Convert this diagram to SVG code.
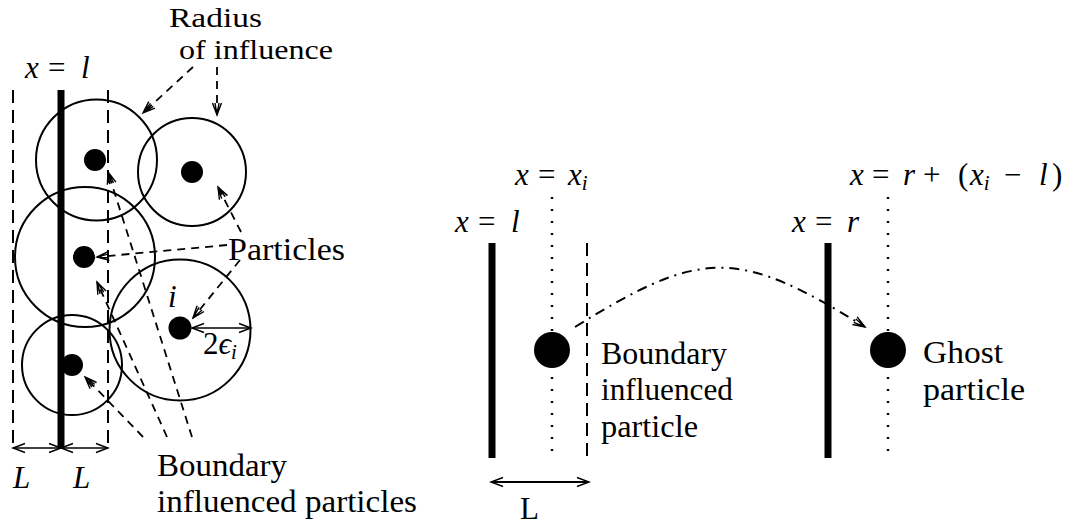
<svg xmlns="http://www.w3.org/2000/svg" width="1076" height="529" viewBox="0 0 1076 529">
<style>
  text { font-family: "Liberation Serif", "Times New Roman", serif; font-size: 31px; fill: #000; }
  .it { font-style: italic; }
  .sub { font-style: italic; font-size: 21px; }
  .sm { font-size: 27px; }
  .circ { fill: none; stroke: #000; stroke-width: 2; }
  .dot { fill: #000; }
  .wall { stroke: #000; stroke-width: 7; fill: none; }
  .vdash { stroke: #000; stroke-width: 2; fill: none; stroke-dasharray: 13 7; }
  .vdot { stroke: #000; stroke-width: 2.4; fill: none; stroke-dasharray: 2 10; }
  .ptr { stroke: #000; stroke-width: 1.8; fill: none; stroke-dasharray: 8 6; marker-end: url(#ptr); }
  .dim { stroke: #000; stroke-width: 1.3; fill: none; marker-start: url(#dim); marker-end: url(#dim); }
  .dimb { stroke: #000; stroke-width: 2; fill: none; marker-start: url(#dim); marker-end: url(#dim); }
  .dashdot { stroke: #000; stroke-width: 2; fill: none; stroke-dasharray: 10 6 2 6; marker-end: url(#ptr); }
  .mk { stroke: #000; stroke-width: 1.4; fill: none; stroke-dasharray: none; }
</style>
<defs>
  <marker id="ptr" markerUnits="userSpaceOnUse" viewBox="-14 -7 16 14" markerWidth="16" markerHeight="14" refX="0" refY="0" orient="auto-start-reverse">
    <path class="mk" d="M-12,-4.5 L0,0 L-12,4.5 M-12,-2 L0,0 L-12,2"/>
  </marker>
  <marker id="dim" markerUnits="userSpaceOnUse" viewBox="-14 -7 16 14" markerWidth="16" markerHeight="14" refX="0" refY="0" orient="auto-start-reverse">
    <path class="mk" d="M-12,-4.5 L0,0 L-12,4.5"/>
  </marker>
</defs>

<!-- LEFT FIGURE -->
<g id="left-boundary">
  <line class="vdash" x1="13" y1="90" x2="13" y2="448"/>
  <line class="wall" x1="61" y1="90" x2="61" y2="449"/>
  <line class="vdash" x1="108" y1="90" x2="108" y2="448"/>
  <text x="25" y="78"><tspan class="it">x</tspan><tspan x="48">=</tspan><tspan class="it" x="81">l</tspan></text>
</g>
<g id="left-dim">
  <line class="dim" x1="13" y1="448" x2="61" y2="448"/>
  <line class="dim" x1="61" y1="448" x2="108" y2="448"/>
  <text class="it" x="13" y="488">L</text>
  <text class="it" x="73" y="488">L</text>
</g>
<g id="particle-top-left">
  <circle class="circ" cx="96.5" cy="160" r="60.5"/>
  <circle class="dot" cx="95" cy="160" r="11"/>
</g>
<g id="particle-top-right">
  <circle class="circ" cx="192" cy="172" r="54"/>
  <circle class="dot" cx="192" cy="172" r="11"/>
</g>
<g id="particle-mid-left">
  <circle class="circ" cx="85" cy="257" r="70"/>
  <circle class="dot" cx="84" cy="257" r="11"/>
</g>
<g id="particle-i">
  <circle class="circ" cx="180" cy="330" r="70.5"/>
  <circle class="dot" cx="180" cy="328" r="11.5"/>
  <text class="it" x="168" y="307">i</text>
  <line class="dim" x1="192" y1="328" x2="251" y2="328"/>
  <text x="203" y="354">2<tspan class="it">ϵ</tspan><tspan class="sub" dy="5">i</tspan></text>
</g>
<g id="particle-bottom-left">
  <circle class="circ" cx="72" cy="365" r="50"/>
  <circle class="dot" cx="72" cy="365" r="11"/>
</g>
<g id="label-radius">
  <text class="sm" x="169" y="27" textLength="93" lengthAdjust="spacingAndGlyphs">Radius</text>
  <text class="sm" x="179" y="59" textLength="154" lengthAdjust="spacingAndGlyphs">of influence</text>
</g>
<g id="label-particles">
  <text x="228" y="260" textLength="117" lengthAdjust="spacingAndGlyphs">Particles</text>
</g>
<g id="label-boundary-left">
  <text x="157" y="476" textLength="130" lengthAdjust="spacingAndGlyphs">Boundary</text>
  <text x="157" y="512" textLength="260" lengthAdjust="spacingAndGlyphs">influenced particles</text>
</g>

<!-- RIGHT FIGURE -->
<g id="right-left-wall">
  <line class="wall" x1="492" y1="243" x2="492" y2="458"/>
  <line class="vdash" x1="587" y1="243" x2="587" y2="458"/>
  <text x="455" y="232"><tspan class="it">x</tspan><tspan x="478">=</tspan><tspan class="it" x="511">l</tspan></text>
  <line class="dimb" x1="491" y1="482" x2="589" y2="482"/>
  <text x="520" y="519">L</text>
</g>
<g id="boundary-particle">
  <line class="vdot" x1="552" y1="197" x2="552" y2="453"/>
  <circle class="dot" cx="552" cy="350" r="18"/>
  <text x="515" y="185"><tspan class="it">x</tspan><tspan x="538">=</tspan><tspan class="it" x="568">x</tspan><tspan class="sub" dy="5">i</tspan></text>
  <text x="601" y="364" textLength="126" lengthAdjust="spacingAndGlyphs">Boundary</text>
  <text x="601" y="400" textLength="132" lengthAdjust="spacingAndGlyphs">influenced</text>
  <text x="601" y="437" textLength="97" lengthAdjust="spacingAndGlyphs">particle</text>
</g>
<g id="right-right-wall">
  <line class="wall" x1="828" y1="243" x2="828" y2="458"/>
  <text x="792" y="232"><tspan class="it">x</tspan><tspan x="815">=</tspan><tspan class="it" x="847">r</tspan></text>
</g>
<g id="ghost-particle">
  <line class="vdot" x1="888" y1="197" x2="888" y2="453"/>
  <circle class="dot" cx="888" cy="350" r="18"/>
  <text x="850" y="185"><tspan class="it">x</tspan><tspan x="872">=</tspan><tspan class="it" x="903">r</tspan><tspan x="923">+</tspan><tspan x="958">(</tspan><tspan class="it" x="970">x</tspan><tspan class="sub" dy="5">i</tspan><tspan x="1004" dy="-5">−</tspan><tspan class="it" x="1039">l</tspan><tspan x="1052">)</tspan></text>
  <text x="923" y="363" textLength="80" lengthAdjust="spacingAndGlyphs">Ghost</text>
  <text x="923" y="400" textLength="102" lengthAdjust="spacingAndGlyphs">particle</text>
</g>

<!-- CONNECTORS -->
<g id="connectors">
  <line class="ptr" x1="193" y1="67" x2="143" y2="113"/>
  <line class="ptr" x1="217" y1="67" x2="217" y2="115"/>
  <line class="ptr" x1="227" y1="245" x2="97" y2="257"/>
  <line class="ptr" x1="241" y1="232" x2="218" y2="187"/>
  <line class="ptr" x1="240" y1="260" x2="193" y2="318"/>
  <line class="ptr" x1="143" y1="437" x2="85" y2="377"/>
  <line class="ptr" x1="167" y1="437" x2="97" y2="282"/>
  <line class="ptr" x1="192" y1="437" x2="108" y2="172"/>
  <path class="dashdot" d="M575,327 C702,248 738,248 865,327"/>
</g>
</svg>
